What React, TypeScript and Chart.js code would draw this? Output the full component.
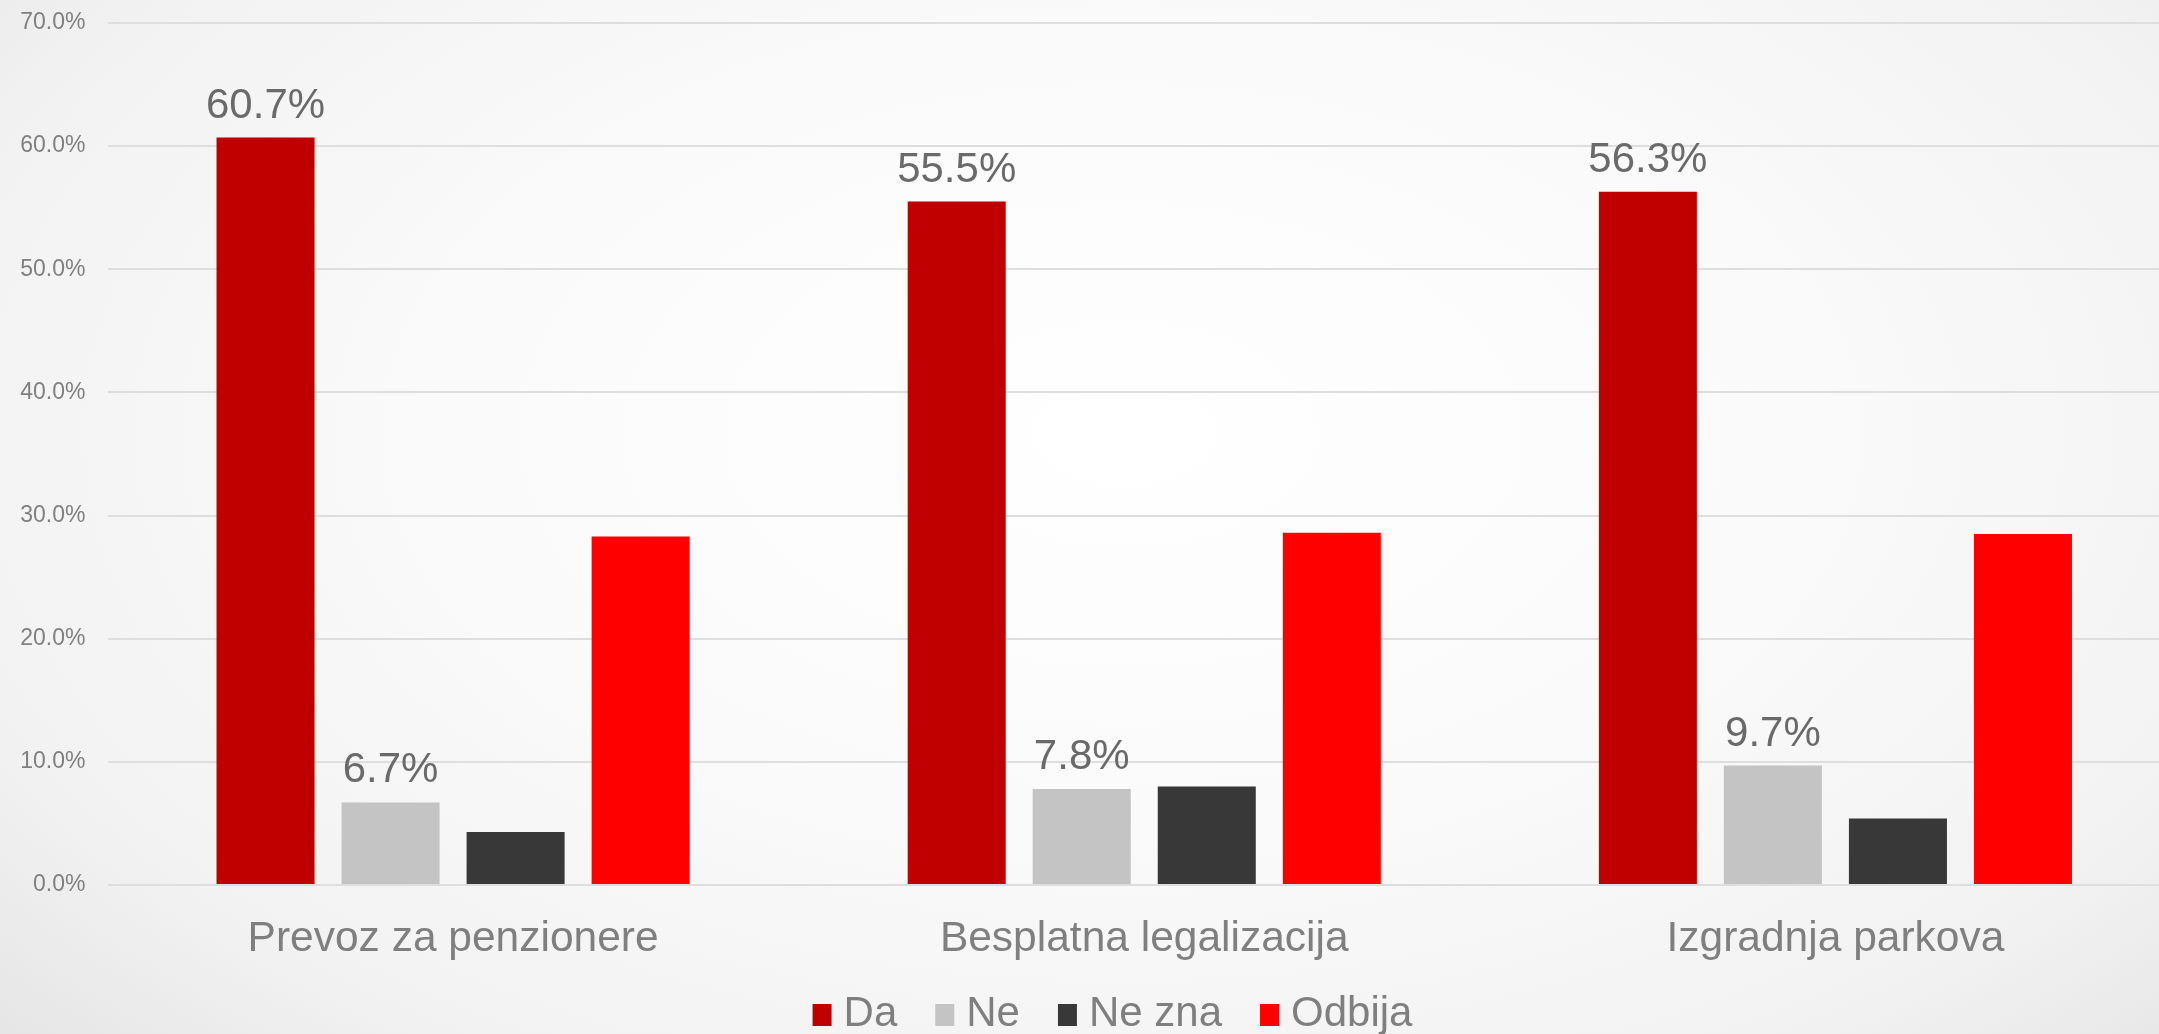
import React, { useEffect, useRef } from "react";
import { Chart, registerables } from "chart.js";

Chart.register(...registerables);

const categories = ["Prevoz za penzionere", "Besplatna legalizacija", "Izgradnja parkova"];
const seriesNames = ["Da", "Ne", "Ne zna", "Odbija"];
const daValues = [60.7, 55.5, 56.3];
const neValues = [6.7, 7.8, 9.7];
const neZnaValues = [4.3, 8.0, 5.4];
const odbijaValues = [28.3, 28.6, 28.5];
const seriesColors = ["#c00000", "#c4c4c4", "#383838", "#ff0000"];
const labeledSeries = [0, 1];
const yTicks = [0, 10, 20, 30, 40, 50, 60, 70];

const SANS = "'Liberation Sans', Arial, sans-serif";

const CANVAS_W = 2181;
const CANVAS_H = 1034;

const dataLabelPlugin = {
  id: "dataLabels",
  afterDatasetsDraw(chart: any) {
    const ctx = chart.ctx;
    ctx.save();
    ctx.font = `42px ${SANS}`;
    ctx.fillStyle = "#6a6a6a";
    ctx.textAlign = "center";
    ctx.textBaseline = "alphabetic";
    labeledSeries.forEach((di) => {
      const meta = chart.getDatasetMeta(di);
      const ds = chart.data.datasets[di];
      meta.data.forEach((bar: any, j: number) => {
        const v = ds.data[j] as number;
        ctx.fillText(v.toFixed(1) + "%", bar.x, bar.y - 20);
      });
    });
    ctx.restore();
  },
};

const legendPlugin = {
  id: "customLegend",
  afterDraw(chart: any) {
    const ctx = chart.ctx;
    ctx.save();
    ctx.font = `42px ${SANS}`;
    ctx.textBaseline = "alphabetic";
    ctx.textAlign = "left";
    const boxW = 19;
    const boxH = 22;
    const gap = 12;
    const spacing = 38;
    const items = chart.data.datasets.map((ds: any) => ({
      label: ds.label,
      color: ds.backgroundColor,
      w: ctx.measureText(ds.label).width,
    }));
    const total =
      items.reduce((s: number, it: any) => s + boxW + gap + it.w, 0) + spacing * (items.length - 1);
    const centerX = 1112.5;
    const baseY = 1026;
    let x = centerX - total / 2;
    items.forEach((it: any) => {
      ctx.fillStyle = it.color;
      ctx.fillRect(x, baseY - boxH, boxW, boxH);
      ctx.fillStyle = "#7f7f7f";
      ctx.fillText(it.label, x + boxW + gap, baseY);
      x += boxW + gap + it.w + spacing;
    });
    ctx.restore();
  },
};

export default function App() {
  const ref = useRef<HTMLCanvasElement>(null);

  useEffect(() => {
    if (!ref.current) return;
    const allValues = [daValues, neValues, neZnaValues, odbijaValues];
    const chart = new Chart(ref.current, {
      type: "bar",
      data: {
        labels: categories,
        datasets: seriesNames.map((name, i) => ({
          label: name,
          data: allValues[i],
          backgroundColor: seriesColors[i],
          borderWidth: 0,
          categoryPercentage: 0.7236,
          barPercentage: 0.784,
        })),
      },
      options: {
        animation: false,
        responsive: false,
        devicePixelRatio: 1,
        layout: { padding: { top: 23, left: 0, right: 0, bottom: 0 } },
        plugins: {
          legend: { display: false },
          tooltip: { enabled: false },
          title: { display: false },
        },
        scales: {
          x: {
            grid: { display: false, drawTicks: false },
            border: { display: false },
            ticks: {
              font: { family: SANS, size: 42.5 },
              color: "#7f7f7f",
              padding: 29,
              maxRotation: 0,
              autoSkip: false,
            },
            afterFit: (scale: any) => {
              scale.height = 149;
              scale.paddingLeft = 0;
              scale.paddingRight = 0;
            },
          },
          y: {
            min: 0,
            max: 70,
            afterBuildTicks: (scale: any) => {
              scale.ticks = yTicks.map((v) => ({ value: v }));
            },
            grid: { color: "#dedede", lineWidth: 2, drawTicks: false },
            border: { display: false },
            ticks: {
              font: { family: SANS, size: 23 },
              color: "#808080",
              padding: 22,
              callback: (v: any) => Number(v).toFixed(1) + "%",
            },
            afterFit: (scale: any) => {
              scale.width = 107.5;
              scale.paddingTop = 0;
              scale.paddingBottom = 0;
            },
          },
        },
      },
      plugins: [dataLabelPlugin, legendPlugin],
    });
    return () => chart.destroy();
  }, []);

  return (
    <div
      style={{
        position: "absolute",
        left: 0,
        top: 0,
        width: 2159,
        height: 1034,
        overflow: "hidden",
        background:
          "radial-gradient(ellipse 70% 85% at 52% 42%, #ffffff 0%, #fafafa 45%, #f2f2f2 80%, #e6e6e6 100%)",
      }}
    >
      <canvas
        ref={ref}
        width={CANVAS_W}
        height={CANVAS_H}
        style={{ position: "absolute", left: 0, top: 0, width: CANVAS_W, height: CANVAS_H }}
      />
    </div>
  );
}
